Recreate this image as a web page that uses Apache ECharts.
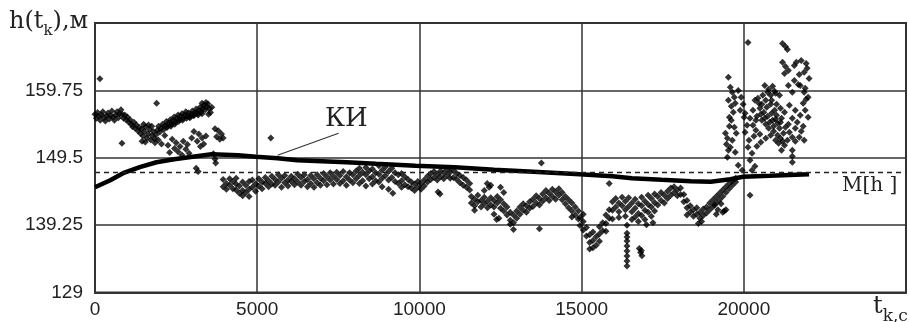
<!DOCTYPE html>
<html><head><meta charset="utf-8">
<script src="https://cdn.jsdelivr.net/npm/echarts@6/dist/echarts.min.js"></script>
<style>html,body{margin:0;padding:0;background:#fff}#c{width:909px;height:322px}</style>
</head><body><div id="c"></div><script>
// axis ticks
const xTicks = [0, 5000, 10000, 15000, 20000, 25000];
const yTicks = [129, 139.25, 149.5, 159.75, 170];
const yLabelTicks = [129, 139.25, 149.5, 159.75];
const meanH = 147.35;

// KИ curve
const kiT = [0,470,865,1380,1896,2442,2897,3595,4415,4960,5628,6235,6994,7752,8662,9876,11090,12303,13517,14943,15944,16551,17461,18371,18978,19585,19979,20798,22012];
const kiH = [145.0,146.09,147.15,148.06,148.82,149.27,149.58,150.03,149.88,149.65,149.43,149.12,148.97,148.82,148.59,148.29,148.06,147.68,147.38,147.0,146.69,146.39,146.16,145.94,145.86,146.24,146.62,146.77,147.0];

// leader line for the КИ label
const kiLeader = [[5628,149.88],[7509,153.22]];

// segment A: upper band t 0..4000 (pairs t,h)
const segA = [[0,156.1],[40,155.5],[80,156.4],[120,155.8],[160,155.2],[200,156.0],[240,156.5],[280,155.6],[320,155.1],[360,155.9],[400,156.3],[440,155.4],[480,155.9],[520,156.6],[560,155.7],[600,155.2],[640,156.0],[680,156.5],[720,155.6],[760,156.2],[800,156.8],[840,156.1],[880,155.5],[920,156.0],[960,155.3],[1000,155.7],[1040,154.9],[1080,155.3],[1120,154.6],[1160,154.2],[1200,154.9],[1240,154.0],[1280,154.5],[1320,153.6],[1360,154.1],[1400,153.2],[1440,153.9],[1480,152.8],[1520,153.5],[1560,154.2],[1600,152.5],[1640,153.1],[1680,153.8],[1720,152.2],[1760,152.9],[1800,153.5],[1840,152.4],[1880,153.0],[1920,153.7],[1960,154.3],[2000,153.4],[2040,154.0],[2080,154.6],[2120,153.8],[2160,154.4],[2200,155.0],[2240,154.3],[2280,154.8],[2320,155.3],[2360,154.6],[2400,155.2],[2440,155.7],[2480,154.9],[2520,155.5],[2560,156.0],[2600,155.3],[2640,155.8],[2680,156.2],[2720,155.5],[2760,156.0],[2800,156.5],[2840,155.8],[2880,156.3],[2920,155.6],[2960,156.1],[3000,156.6],[3040,155.9],[3080,156.4],[3120,156.9],[3160,156.2],[3200,156.7],[3240,157.2],[3280,156.5],[3320,157.0],[3360,157.5],[3400,156.8],[3440,157.3],[3480,157.7],[3520,157.0],[3560,156.4],[3600,157.2],[1450,152.0],[1550,151.9],[1650,154.5],[1750,154.3],[1850,151.8],[1500,154.6],[3300,157.8],[3420,157.9],[3500,156.1],[2220,154.1],[2340,154.3],[2460,154.6],[2580,155.0],[2700,155.2],[2820,155.5],[2940,155.7],[3060,156.0],[3180,156.0],[3300,156.2]];
// scattered points around segment A
const segAScatter = [[150,161.5],[1900,157.8],[830,151.7],[1950,152.2],[2050,151.6],[2150,152.9],[2250,151.4],[2300,150.3],[2380,152.3],[2450,150.9],[2500,151.8],[2560,150.4],[2620,151.2],[2680,149.9],[2720,152.0],[2800,150.8],[2850,151.5],[2900,150.2],[2980,152.5],[3050,153.5],[3150,152.0],[3200,153.1],[3250,151.2],[3300,152.5],[3350,151.6],[3420,152.8],[3700,153.9],[3750,152.7],[3800,153.6],[3850,152.3],[3900,153.1],[3950,152.5],[3650,150.1],[3700,149.3],[3720,148.7],[3120,147.9],[3180,147.4],[5420,152.5]];

// segment B: lower band t 3950..11550 (rows: t, h values)
const segB = [[3950,146.2,145.1],[4050,145.6,144.7],[4150,146.3,145.3],[4250,145.9,144.8],[4350,146.4,145.5,144.6],[4450,145.2,144.1],[4550,145.8,144.5,143.7],[4650,145.3,144.2],[4750,145.9,143.6,144.7],[4850,146.1,145.0],[4950,145.5,144.4],[5050,146.3,145.2],[5150,145.8,144.8],[5250,146.5,145.6],[5350,146.0,145.1],[5450,146.7,145.5],[5550,146.2,145.3],[5650,146.9,145.8],[5750,146.4,145.0],[5850,146.8,145.7],[5950,146.1,145.2],[6050,146.7,145.9],[6150,146.3,145.4],[6250,147.0,145.8],[6350,146.5,145.3],[6450,146.9,145.9],[6550,146.2,145.1],[6650,146.8,145.6],[6750,146.3,145.0],[6850,146.9,145.7],[6950,146.4,145.3],[7050,147.1,146.0],[7150,146.6,145.4],[7250,147.2,146.1],[7350,146.7,145.5],[7450,147.3,146.2],[7550,146.8,145.6],[7650,147.4,146.0],[7750,146.6,145.3],[7850,147.2,146.1],[7950,146.9,145.7],[8050,147.5,146.3],[8150,147.9,146.8,145.6],[8250,147.3,146.0],[8350,148.0,146.9,145.2],[8450,147.5,146.3],[8550,147.8,146.6,145.5],[8650,147.2,146.0],[8750,148.3,147.0,145.8],[8850,147.6,146.4,145.1],[8950,148.1,146.8],[9050,147.4,146.1,144.7],[9150,147.9,146.5],[9250,147.2,145.9],[9350,146.9,145.6],[9450,147.1,146.0,145.0],[9550,146.6,145.4],[9650,146.2,145.1],[9750,145.8,144.9],[9850,145.5,144.5],[9950,145.9,145.0],[10050,145.6,144.7],[10150,146.1,145.2],[10250,146.7,145.8],[10350,147.1,146.2],[10450,147.4,146.5],[10550,147.0,146.1],[10650,147.5,146.6],[10750,147.2,146.3],[10850,147.7,146.8],[10950,147.3,146.4],[11050,147.6,146.5],[11150,147.1,146.2],[11250,146.8,145.7],[11350,146.5,145.3],[11450,146.1,145.0],[11550,145.6,144.6],[9180,144.1],[10575,144.3],[10635,144.0]];

// segment C: t 11600..14900
const segC = [[11600,143.6,142.6],[11700,143.2,142.2,141.5],[11800,143.8,142.8],[11900,143.0,142.0],[12000,143.5,142.5,144.5],[12100,142.9,141.9],[12200,143.4,142.3,145.3],[12300,143.0,142.0,140.9],[12400,143.6,142.6],[12500,143.1,141.8,145.0],[12600,142.5,141.4,144.2],[12700,142.0,140.8],[12800,141.2,140.0,139.4],[12900,140.8,139.6,138.6],[13000,141.4,140.3],[13100,142.0,140.9],[13200,142.5,141.5],[13300,142.2,141.2],[13400,142.8,141.8],[13500,143.2,142.1],[13600,143.7,142.6],[13700,143.3,142.3,138.7],[13800,144.0,142.9],[13900,144.5,143.4],[14000,144.1,143.0],[14100,144.7,143.6],[14200,144.3,143.2],[14300,144.8,143.8],[14400,144.2,143.1],[14500,143.6,142.5],[14600,143.1,141.9],[14700,142.6,141.4,140.5],[14800,142.0,140.8],[14900,141.4,140.2],[13760,148.7],[12380,140.1],[12090,145.6],[12150,145.0],[12450,140.3]];

// segment D: t 14950..16900 (dip and vertical stack)
const segD = [[14950,140.4,139.2],[15050,139.8,138.5,140.9],[15150,138.9,137.6],[15250,137.8,136.6,135.6],[15350,138.2,136.9,135.8],[15450,137.5,136.2],[15550,139.0,137.9,136.8],[15650,139.6,138.4],[15750,140.8,139.5,138.3],[15850,141.6,140.3,145.6],[15950,142.8,141.5,140.2],[16050,143.3,142.0],[16150,142.6,141.3,140.4],[16250,143.5,142.2],[16350,142.9,141.6,140.6],[16450,143.4,142.1],[16400,139.25,138.0,137.43,136.82,136.06,135.3,134.54,133.78,133.03],[16780,135.7],[16820,135.1],[16860,134.6],[16840,135.4]];

// segment E: t 16550..19750
const segE = [[16550,142.6,141.3,140.1],[16650,143.2,141.8,140.5],[16750,142.5,141.0,139.8],[16850,143.5,142.2,140.7],[16950,142.9,141.5,140.1],[17050,143.8,142.4,141.2],[17150,143.3,142.0,140.6],[17250,144.0,142.7,141.4],[17350,143.6,142.3],[17450,144.2,143.0],[17550,143.8,142.6],[17650,144.4,143.3],[17750,144.9,143.8],[17850,145.1,144.2],[17950,144.6,143.7],[18050,144.9,143.9],[18150,143.9,142.8],[18250,143.0,141.9,140.8],[18350,142.2,141.2],[18450,141.6,140.6],[18550,141.9,140.9],[18650,141.2,140.3],[18750,141.7,140.7],[18850,142.0,141.1],[18950,142.6,141.6],[19050,143.1,142.1],[19150,143.6,142.6,140.9],[19250,144.1,143.1],[19350,144.6,143.6,141.2],[19450,145.1,144.2,141.6],[19550,145.6,144.8],[19650,146.0,145.3],[19750,146.4,145.8],[17200,139.6],[17000,139.3],[18600,139.5],[18700,139.8],[19100,142.3],[19200,141.6],[19300,142.5],[19400,141.4]];

// segment F: scattered cloud t 19400..22000 (pairs)
const segF = [[20130,167.04],[21193,166.89],[21284,166.43],[21345,165.98],[19525,161.73],[19585,160.21],[19646,159.45],[19707,158.69],[19525,158.24],[19616,157.33],[19676,156.41],[19555,155.65],[19434,153.22],[19494,152.47],[19464,151.55],[19525,150.64],[19494,149.58],[19828,159.75],[19919,158.69],[19980,157.63],[19889,156.72],[20040,156.26],[20010,155.65],[20101,154.44],[20040,153.38],[20161,152.16],[20130,151.1],[20252,150.19],[20192,149.12],[20343,148.21],[20252,147.61],[20192,143.81],[20646,160.51],[20768,159.91],[20889,160.36],[20980,159.3],[20828,158.99],[20434,158.54],[20555,157.63],[20677,158.24],[20495,157.02],[20616,156.41],[20737,155.8],[20858,156.26],[20980,155.35],[20555,155.2],[20677,154.59],[20798,154.9],[20919,154.29],[21040,154.74],[21101,153.98],[20919,153.53],[21040,152.92],[21132,152.47],[20980,152.16],[21193,152.01],[21071,151.71],[20282,154.44],[20373,153.68],[20495,153.07],[20312,152.77],[20950,159.6],[21101,158.99],[21193,164.01],[21284,163.4],[21375,162.79],[21254,162.33],[21618,164.01],[21770,164.31],[21922,163.85],[21861,162.49],[21557,163.55],[21952,163.1],[21557,161.27],[21679,160.66],[21861,159.45],[21922,158.39],[21831,157.78],[21405,157.48],[21587,156.72],[21740,155.96],[21496,155.5],[21648,154.9],[21831,154.29],[21375,154.59],[21770,153.53],[21587,153.98],[21405,153.38],[21496,152.62],[21587,152.01],[21345,152.16],[21496,150.64],[21496,149.73],[21496,148.82],[21740,160.51],[21892,160.06],[19828,148.36],[19950,147.61],[20707,157.17],[20828,157.63],[20950,156.72],[21162,155.5],[21254,156.41],[21284,154.13],[20404,155.8],[20282,156.72],[20192,155.5],[20343,158.24],[20464,157.78],[20585,158.99],[20737,159.45],[20858,158.24],[21010,157.63],[21132,157.02],[20373,155.2],[20525,156.11],[20646,155.5],[20768,153.98],[20889,155.2],[21010,155.96],[21132,154.9],[21223,153.22],[20828,152.92],[20677,152.47],[20525,151.86],[20404,151.25],[21254,151.4],[21162,150.64],[19737,157.78],[19616,155.2],[19707,154.13],[19555,154.29],[19646,152.16],[19767,153.22],[19585,151.1],[19737,150.34],[21892,156.72],[21983,155.65],[21709,152.62],[21861,152.16],[21983,158.69],[22012,161.57],[21709,162.18],[21496,159.45],[21375,160.51]];

const rowsToPairs = rows => rows.flatMap(r => r.slice(1).map(h => [r[0], h]));
const points = [].concat(segA, segAScatter, rowsToPairs(segB), rowsToPairs(segC), rowsToPairs(segD), rowsToPairs(segE), segF);
const kiData = kiT.map((t, i) => [t, kiH[i]]);

const chart = echarts.init(document.getElementById('c'), null, {renderer: 'canvas'});
const ink = '#000';
const tickFont = {fontFamily: '"Liberation Sans", Arial, sans-serif', fontSize: 19, color: '#222'};
chart.setOption({
  animation: false,
  backgroundColor: '#fff',
  grid: {left: 95, top: 23, width: 823.5, height: 269.5, show: true, borderColor: '#333', borderWidth: 2, backgroundColor: 'transparent'},
  xAxis: {
    type: 'value', min: xTicks[0], max: xTicks[xTicks.length - 1], interval: 5000,
    axisLine: {show: true, lineStyle: {color: '#333', width: 2}},
    axisTick: {show: false},
    axisLabel: Object.assign({margin: 8, formatter: v => (v === 25000 ? '' : String(v))}, tickFont),
    splitLine: {show: true, lineStyle: {color: '#333', width: 1.5}}
  },
  yAxis: {
    type: 'value', min: yTicks[0], max: yTicks[yTicks.length - 1],
    axisLine: {show: true, lineStyle: {color: '#333', width: 2}},
    axisTick: {show: false, customValues: yTicks},
    axisLabel: Object.assign({margin: 12, customValues: yLabelTicks}, tickFont),
    splitLine: {show: true, lineStyle: {color: '#333', width: 1.5}}
  },
  series: [
    {
      type: 'scatter', data: points, symbol: 'diamond', symbolSize: 7,
      itemStyle: {color: ink}, silent: true, z: 3
    },
    {
      type: 'line', data: kiData, showSymbol: false, smooth: false,
      lineStyle: {color: ink, width: 4.5}, silent: true, z: 4,
      markLine: {
        silent: true, symbol: 'none', label: {show: false},
        data: [
          [{coord: kiLeader[0], lineStyle: {type: 'solid', width: 1.2, color: '#333'}}, {coord: kiLeader[1]}],
          {yAxis: meanH, lineStyle: {type: [5, 4], width: 1.3, color: '#222'}}
        ]
      }
    }
  ],
  graphic: [
    {type: 'text', left: 325, top: 106, style: {text: 'КИ', fontFamily: '"DejaVu Serif", serif', fontSize: 26, fill: '#222'}},
    {type: 'text', left: 842, top: 176, style: {text: 'M[h ]', fontFamily: '"DejaVu Serif", serif', fontSize: 20, fill: '#222'}},
    {type: 'text', left: 9, top: 10, style: {
      text: '{a|h(t}{s|k}{a|),м}',
      rich: {
        a: {fontFamily: '"DejaVu Serif", serif', fontSize: 24, fill: '#222', verticalAlign: 'bottom'},
        s: {fontFamily: '"DejaVu Serif", serif', fontSize: 15, fill: '#222', verticalAlign: 'bottom', padding: [0, 0, -5, 0]}
      }
    }},
    {type: 'text', left: 873, top: 295, style: {
      text: '{a|t}{s|k,c}',
      rich: {
        a: {fontFamily: '"DejaVu Serif", serif', fontSize: 24, fill: '#222', verticalAlign: 'bottom'},
        s: {fontFamily: '"DejaVu Serif", serif', fontSize: 17, fill: '#222', verticalAlign: 'bottom', padding: [0, 0, -6, 0]}
      }
    }}
  ]
});
</script></body></html>
